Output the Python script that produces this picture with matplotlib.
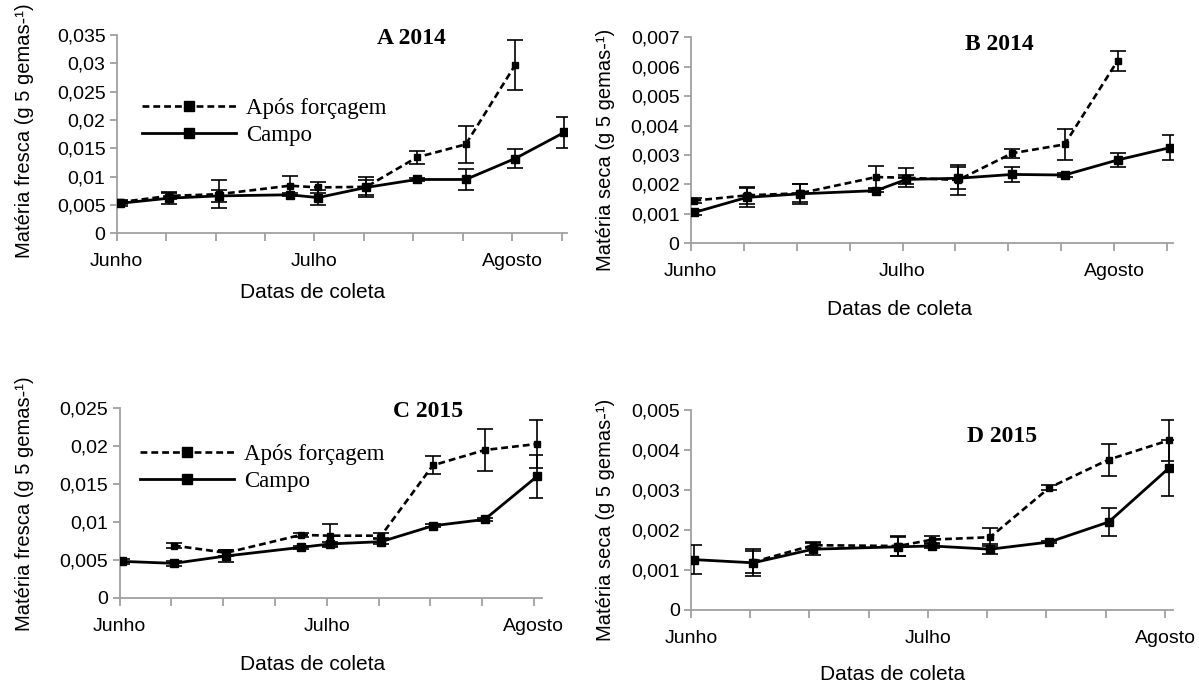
"""Four-panel bud fresh/dry matter chart (Após forçagem vs Campo)."""

import matplotlib

matplotlib.use("Agg")
import matplotlib.pyplot as plt
from matplotlib.lines import Line2D
from matplotlib.ticker import FixedLocator, FuncFormatter

W, H = 1199, 686

# collection dates, as positions on the weekly date axis (tick 0 = Junho)
x_2014 = [0.07, 1.06, 2.06, 3.50, 4.07, 5.05, 6.07, 7.06, 8.06, 9.05]
x_2015 = [0.05, 1.05, 2.06, 3.50, 4.07, 5.05, 6.05, 7.05, 8.06]
month_labels = {0: "Junho", 4: "Julho", 8: "Agosto"}

# A 2014 - fresh matter
a_campo = [0.0053, 0.0062, 0.0066, 0.0068, 0.0063, 0.0081, 0.0095, 0.0095, 0.0132, 0.0178]
a_campo_err = [0.0004, 0.0011, 0.0010, 0.0003, 0.0013, 0.0013, 0.0003, 0.0018, 0.0017, 0.0027]
a_apos = [0.0055, 0.0066, 0.0069, 0.0084, 0.0081, 0.0082, 0.0134, 0.0157, 0.0297]
a_apos_err = [0.0003, 0.0006, 0.0025, 0.0017, 0.0009, 0.0018, 0.0012, 0.0033, 0.0044]

# B 2014 - dry matter
b_campo = [0.00105, 0.00156, 0.00168, 0.00179, 0.00217, 0.00221, 0.00234, 0.00232, 0.00283, 0.00325]
b_campo_err = [0.00008, 0.00033, 0.00034, 0.00005, 0.00015, 0.00037, 0.00025, 0.00008, 0.00024, 0.00042]
b_apos = [0.00145, 0.00163, 0.00170, 0.00225, 0.00223, 0.00215, 0.00306, 0.00336, 0.00620]
b_apos_err = [0.00008, 0.00030, 0.00030, 0.00038, 0.00032, 0.00050, 0.00015, 0.00052, 0.00034]

# C 2015 - fresh matter (Após forçagem starts at the 2nd collection)
c_campo = [0.00482, 0.00456, 0.00553, 0.00666, 0.00712, 0.00741, 0.00950, 0.01034, 0.01600]
c_campo_err = [0.0003, 0.0003, 0.0008, 0.0002, 0.0003, 0.0003, 0.0002, 0.0002, 0.0028]
c_apos = [0.0069, 0.00595, 0.0083, 0.0082, 0.0082, 0.01746, 0.01947, 0.02027]
c_apos_err = [0.0003, 0.0004, 0.0003, 0.0015, 0.0003, 0.0012, 0.0028, 0.0031]

# D 2015 - dry matter
d_campo = [0.00126, 0.00118, 0.00152, 0.00158, 0.00160, 0.00152, 0.00170, 0.00220, 0.00354]
d_campo_err = [0.00036, 0.00034, 0.00015, 0.00024, 0.00005, 0.00013, 0.00003, 0.00034, 0.00070]
d_apos = [0.00120, 0.00162, 0.00160, 0.00176, 0.00182, 0.00306, 0.00376, 0.00424]
d_apos_err = [0.00028, 0.00008, 0.00024, 0.00008, 0.00022, 0.00007, 0.00040, 0.00052]

SANS = ["Liberation Sans", "DejaVu Sans"]
SERIF = ["Liberation Serif", "DejaVu Serif"]
SPINE = "#a0a0a0"
DASH = (0, (2.6, 1.5))


def fx(px):
    return px / W


def fy(py):
    return 1 - py / H


def comma_fmt(v, _pos):
    s = f"{v:.3f}".rstrip("0").rstrip(".")
    return s.replace(".", ",")


def draw_panel(fig, box, xc, campo, campo_err, xa, apos, apos_err,
               ymax, ystep, nticks, xmax, ylabel, title, title_xy,
               xlabel_xy, ylabel_xy, legend_xy=None):
    left, right, top, bottom = box
    ax = fig.add_axes([fx(left), fy(bottom), (right - left) / W, (bottom - top) / H])

    dashed = dict(color="black", lw=1.9, ls=DASH, marker="s", ms=4.5,
                  ecolor="black", elinewidth=1.2, capsize=5.5, capthick=1.2)
    solid = dict(color="black", lw=2.0, ls="-", marker="s", ms=5.2,
                 ecolor="black", elinewidth=1.2, capsize=5.5, capthick=1.2)
    ax.errorbar(xa, apos, yerr=apos_err, zorder=3, **dashed)
    ax.errorbar(xc, campo, yerr=campo_err, zorder=4, **solid)

    ax.set_xlim(0, xmax)
    ax.set_ylim(0, ymax)
    ax.xaxis.set_major_locator(FixedLocator(list(range(nticks))))
    ax.set_xticklabels([month_labels.get(i, "") for i in range(nticks)])
    n_y = int(round(ymax / ystep))
    ax.yaxis.set_major_locator(FixedLocator([i * ystep for i in range(n_y + 1)]))
    ax.yaxis.set_major_formatter(FuncFormatter(comma_fmt))

    for side in ("top", "right"):
        ax.spines[side].set_visible(False)
    for side in ("left", "bottom"):
        ax.spines[side].set_color(SPINE)
        ax.spines[side].set_linewidth(1.3)
    ax.tick_params(axis="x", direction="out", length=6, width=1.3, color=SPINE,
                   labelsize=14, pad=8.5)
    ax.tick_params(axis="y", direction="out", length=5, width=1.3, color=SPINE,
                   labelsize=14, pad=3)
    for lab in ax.get_xticklabels() + ax.get_yticklabels():
        lab.set_family(SANS)
    ax.set_facecolor("none")

    fig.text(fx(ylabel_xy[0]), fy(ylabel_xy[1]), ylabel, rotation=90,
             ha="center", va="center", fontsize=14.5, family=SANS)
    fig.text(fx(xlabel_xy[0]), fy(xlabel_xy[1]), "Datas de coleta",
             ha="center", va="center", fontsize=15, family=SANS)
    fig.text(fx(title_xy[0]), fy(title_xy[1]), title, ha="center", va="center",
             fontsize=17, fontweight="bold", family=SERIF)

    if legend_xy is not None:
        handles = [
            Line2D([], [], color="black", lw=1.9, ls=DASH, marker="s", ms=7.5),
            Line2D([], [], color="black", lw=2.0, ls="-", marker="s", ms=7.5),
        ]
        ax.legend(handles, ["Após forçagem", "Campo"], loc="center left",
                  bbox_to_anchor=(fx(legend_xy[0]), fy(legend_xy[1])),
                  bbox_transform=fig.transFigure, frameon=False, numpoints=1,
                  handlelength=4.1, handletextpad=0.45, labelspacing=0.22,
                  borderpad=0, borderaxespad=0,
                  prop={"family": SERIF, "size": 16.5})
    return ax


fig = plt.figure(figsize=(W / 100, H / 100), dpi=100)

draw_panel(fig, (116.7, 566.6, 35.0, 233.3), x_2014, a_campo, a_campo_err,
           x_2014[:9], a_apos, a_apos_err, 0.035, 0.005, 10, 9.1,
           "Matéria fresca (g 5 gemas-¹)", "A 2014", (411, 39), (313, 293),
           (25, 131), legend_xy=(142, 122))
draw_panel(fig, (690.7, 1172.6, 37.3, 243.3), x_2014, b_campo, b_campo_err,
           x_2014[:9], b_apos, b_apos_err, 0.007, 0.001, 10, 9.1,
           "Matéria seca (g 5 gemas-¹)", "B 2014", (999, 44), (900, 310),
           (606, 150))
draw_panel(fig, (119.5, 541.7, 408.0, 598.0), x_2015, c_campo, c_campo_err,
           x_2015[1:], c_apos, c_apos_err, 0.025, 0.005, 9, 8.15,
           "Matéria fresca (g 5 gemas-¹)", "C 2015", (428, 412), (313, 664),
           (25, 504), legend_xy=(140, 468))
draw_panel(fig, (691.0, 1172.7, 410.0, 610.0), x_2015, d_campo, d_campo_err,
           x_2015[1:], d_apos, d_apos_err, 0.005, 0.001, 9, 8.13,
           "Matéria seca (g 5 gemas-¹)", "D 2015", (1002, 436), (893, 675),
           (606, 520))

fig.savefig("out.png", dpi=100)
plt.close(fig)
